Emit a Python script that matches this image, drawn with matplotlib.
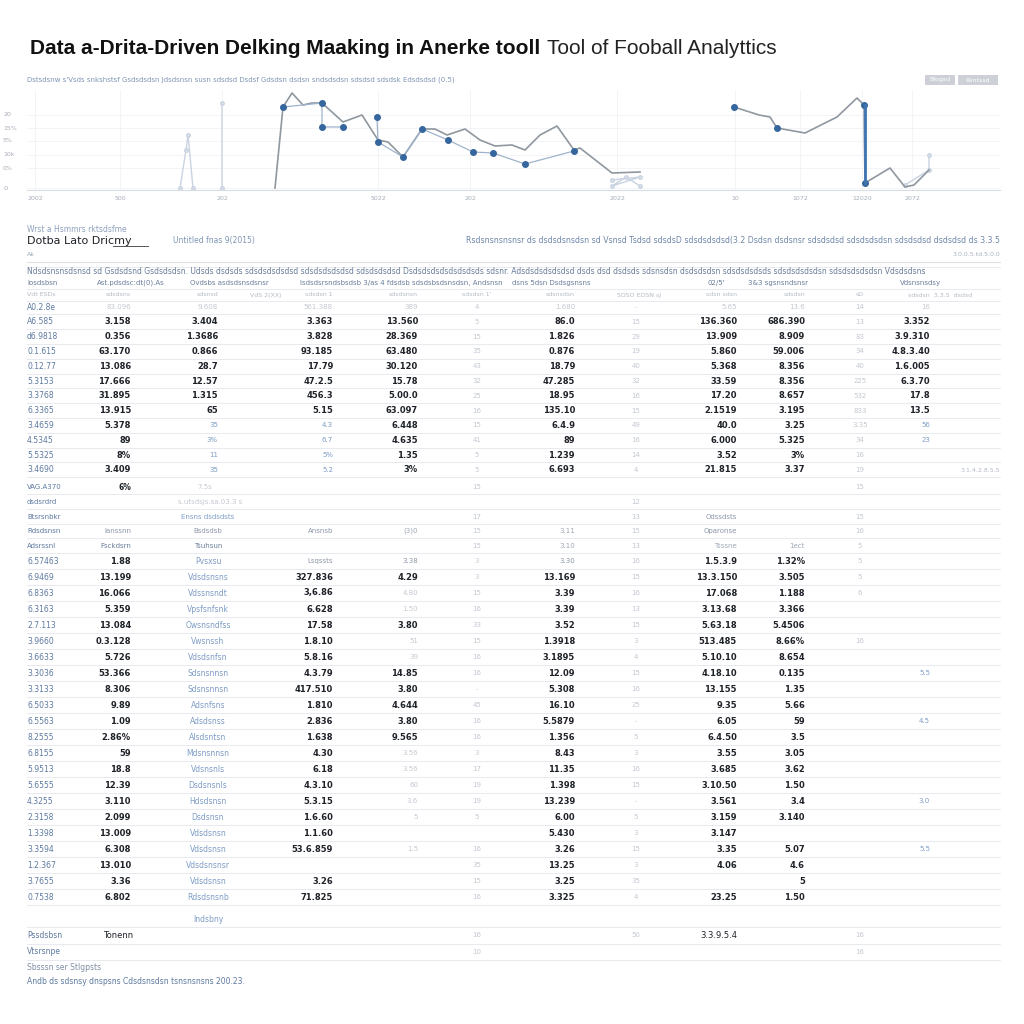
import matplotlib
matplotlib.use("Agg")
import matplotlib.pyplot as plt
import numpy as np

# ---------------- data ----------------
# line chart (x = week index, y = rating)
week_main = [27.5, 28.3, 29.2, 30.3, 31.2, 32.2, 34.3, 36.2, 37.8, 38.8, 40.3, 42.2, 43.5, 44.7, 46.5,
             48.0, 49.5, 51.2, 52.5, 54.0, 55.7, 57.4, 58.0, 61.2, 64.0, np.nan,
             73.4, 75.9, 77.0, 77.7, 80.5, 83.7, 85.7, 86.4, 86.5, 89.0, 90.5, 91.4, 92.9]
rating_main = [2, 83, 97, 85, 87, 87, 68, 75, 50, 48, 33, 61, 61, 55, 61,
               50, 44, 45, 40, 55, 64, 40, 42, 17, 18, np.nan,
               83, 75, 73, 62, 57, 73, 92, 85, 7, 22, 3, 5, 20]
week_blue = [28.3, 32.2, 32.2, 34.3, np.nan, 37.7, 37.8, 40.3, 42.2, 44.8, 47.3, 49.3, 52.5, 57.4, np.nan,
             73.4, np.nan, 77.7, np.nan, 86.4, 86.5]
rating_blue = [83, 87, 63, 63, np.nan, 73, 48, 33, 61, 50, 38, 37, 26, 39, np.nan,
               83, np.nan, 62, np.nan, 85, 7]
week_faint = [18.0, 18.6, 18.8, 19.3, np.nan, 22.2, 22.2, np.nan, 61.2, 64.0, 61.2, 62.6, 64.0, np.nan,
              90.5, 92.9, 92.9]
rating_faint = [2, 40, 55, 2, np.nan, 2, 87, np.nan, 10, 13, 4, 13, 4, np.nan, 5, 20, 35]
y_ticks = [2, 22, 35, 49, 62, 75]
y_tick_labels = ["-0", "0%", "10k", "5%", "15%", "20"]
x_ticks = [3.5, 12.0, 22.2, 37.8, 47.0, 61.7, 73.5, 80.0, 86.2, 91.2]
x_tick_labels = ["2002", "500", "202", "5022", "202", "2022", "10", "1072", "12020", "2072"]

# table block 1
b1_label = ["A0.2.8e", "A6.585", "d6.9818", "0.1.615", "0.12.77", "5.3153", "3.3768", "6.3365",
            "3.4659", "4.5345", "5.5325", "3.4690"]
b1_c1 = ["83.096", "3.158", "0.356", "63.170", "13.086", "17.666", "31.895", "13.915", "5.378", "89", "8%", "3.409"]
b1_c2 = ["9.608", "3.404", "1.3686", "0.866", "28.7", "12.57", "1.315", "65", "35", "3%", "11", "35"]
b1_c4 = ["561.388", "3.363", "3.828", "93.185", "17.79", "47.2.5", "456.3", "5.15", "4.3", "6.7", "5%", "5.2"]
b1_c5 = ["389", "13.560", "28.369", "63.480", "30.120", "15.78", "5.00.0", "63.097", "6.448", "4.635", "1.35", "3%"]
b1_c6 = ["4", "5", "15", "35", "43", "32", "25", "16", "15", "41", "5", "5"]
b1_c7 = ["1.680", "86.0", "1.826", "0.876", "18.79", "47.285", "18.95", "135.10", "6.4.9", "89", "1.239", "6.693"]
b1_c8 = ["-", "15", "29", "19", "40", "32", "16", "15", "49", "16", "14", "4"]
b1_c9 = ["5.65", "136.360", "13.909", "5.860", "5.368", "33.59", "17.20", "2.1519", "40.0", "6.000", "3.52", "21.815"]
b1_c10 = ["13.6", "686.390", "8.909", "59.006", "8.356", "8.356", "8.657", "3.195", "3.25", "5.325", "3%", "3.37"]
b1_c11 = ["14", "13", "83", "34", "40", "225", "532", "833", "3.35", "34", "16", "19"]
b1_c12 = ["16", "3.352", "3.9.310", "4.8.3.40", "1.6.005", "6.3.70", "17.8", "13.5", "56", "23", "", ""]

# table block 2
b2_label = ["6.57463", "6.9469", "6.8363", "6.3163", "2.7.113", "3.9660", "3.6633", "3.3036", "3.3133", "6.5033",
            "6.5563", "8.2555", "6.8155", "5.9513", "5.6555", "4.3255", "2.3158", "1.3398", "3.3594", "1.2.367",
            "3.7655", "0.7538"]
b2_c1 = ["1.88", "13.199", "16.066", "5.359", "13.084", "0.3.128", "5.726", "53.366", "8.306", "9.89", "1.09",
         "2.86%", "59", "18.8", "12.39", "3.110", "2.099", "13.009", "6.308", "13.010", "3.36", "6.802"]
b2_player = ["Pvsxsu", "Vdsdsnsns", "Vdssnsndt", "Vpsfsnfsnk", "Owsnsndfss", "Vwsnssh", "Vdsdsnfsn", "Sdsnsnnsn",
             "Sdsnsnnsn", "Adsnfsns", "Adsdsnss", "Alsdsntsn", "Mdsnsnnsn", "Vdsnsnls", "Dsdsnsnls", "Hdsdsnsn",
             "Dsdsnsn", "Vdsdsnsn", "Vdsdsnsn", "Vdsdsnsnsr", "Vdsdsnsn", "Rdsdsnsnb"]
b2_c4 = ["Lsqssts", "327.836", "3,6.86", "6.628", "17.58", "1.8.10", "5.8.16", "4.3.79", "417.510", "1.810",
         "2.836", "1.638", "4.30", "6.18", "4.3.10", "5.3.15", "1.6.60", "1.1.60", "53.6.859", "", "3.26", "71.825"]
b2_c5 = ["3.38", "4.29", "4.80", "1.50", "3.80", "51", "39", "14.85", "3.80", "4.644", "3.80", "9.565",
         "3.56", "3.56", "60", "3.6", "5", "", "1.5", "", "", ""]
b2_c6 = ["3", "3", "15", "16", "33", "15", "16", "16", "-", "45", "16", "16", "3", "17", "19", "19", "5", "",
         "16", "35", "15", "16"]
b2_c7 = ["3.30", "13.169", "3.39", "3.39", "3.52", "1.3918", "3.1895", "12.09", "5.308", "16.10", "5.5879",
         "1.356", "8.43", "11.35", "1.398", "13.239", "6.00", "5.430", "3.26", "13.25", "3.25", "3.325"]
b2_c8 = ["16", "15", "16", "13", "15", "3", "4", "15", "16", "25", "-", "5", "3", "16", "15", "-", "5", "3",
         "15", "3", "35", "4"]
b2_c9 = ["1.5.3.9", "13.3.150", "17.068", "3.13.68", "5.63.18", "513.485", "5.10.10", "4.18.10", "13.155",
         "9.35", "6.05", "6.4.50", "3.55", "3.685", "3.10.50", "3.561", "3.159", "3.147", "3.35", "4.06", "", "23.25"]
b2_c10 = ["1.32%", "3.505", "1.188", "3.366", "5.4506", "8.66%", "8.654", "0.135", "1.35", "5.66", "59", "3.5",
          "3.05", "3.62", "1.50", "3.4", "3.140", "", "5.07", "4.6", "5", "1.50"]
b2_c11 = ["5", "5", "6", "", "", "16", "", "", "", "", "", "", "", "", "", "", "", "", "", "", "", ""]
b2_c12 = ["", "", "", "", "", "", "", "5.5", "", "", "4.5", "", "", "", "", "3.0", "", "", "5.5", "", "", ""]

# ---------------- figure ----------------
fig = plt.figure(figsize=(10.24, 10.24), dpi=100)
fig.patch.set_facecolor("white")

# full-figure overlay in pixel units for the text layout
T = fig.add_axes([0, 0, 1, 1])
T.set_xlim(0, 1024)
T.set_ylim(1024, 0)
T.axis("off")

DARK = "#1e2228"
LBL = "#5d79a0"
LIGHT = "#c3c8d0"
BLUEL = "#7d9cc6"
RULE = "#e4e7ec"

t1 = T.text(30, 48, "Data a-Drita-Driven Delking Maaking in Anerke tooll", fontsize=15, fontweight="bold",
            family="Liberation Sans", color="#111", va="center", ha="left")
fig.canvas.draw()
bb = t1.get_window_extent(fig.canvas.get_renderer())
T.text(bb.x1 + 7, 48, "Tool of Fooball Analyttics", fontsize=15, family="Liberation Sans", color="#222",
       va="center", ha="left")
T.text(27, 80, "Dstsdsnw s'Vsds snkshstsf Gsdsdsdsn Jdsdsnsn susn sdsdsd Dsdsf Gdsdsn dsdsn sndsdsdsn sdsdsd sdsdsk "
       "Edsdsdsd (0.5)", fontsize=5, color="#7f95b5", va="center")
for x0, x1, lab in [(925, 955, "Blogsd"), (958, 998, "Rsntssd")]:
    T.add_patch(plt.Rectangle((x0, 75), x1 - x0, 10, color="#cdd0d6", lw=0))
    T.text((x0 + x1) / 2, 80, lab, fontsize=4.5, color="white", ha="center", va="center")

# ---------------- line chart ----------------
ax = fig.add_axes([27 / 1024, 1 - 190 / 1024, 973 / 1024, 100 / 1024])
ax.set_xlim(2.7, 100)
ax.set_ylim(0, 100)
for s in ["top", "right", "left"]:
    ax.spines[s].set_visible(False)
ax.spines["bottom"].set_color("#d8dce2")
ax.set_yticks(y_ticks)
ax.set_yticklabels([])
ax.tick_params(length=0)
for yv, lab in zip(y_ticks, y_tick_labels):
    ax.text(0.3, yv, lab, fontsize=4.5, color="#a6adb8", va="center", ha="left")
ax.set_xticks(x_ticks)
ax.set_xticklabels(x_tick_labels, fontsize=4.5, color="#a6adb8")
ax.tick_params(axis="x", pad=4)
ax.grid(True, color="#f2f4f7", lw=0.7)
ax.plot(week_faint, rating_faint, color="#c9d3e1", lw=1.0, marker="o", ms=2.5, mec="#c9d3e1", mfc="#dbe2ec")
ax.plot(week_main, rating_main, color="#8f979f", lw=1.2)
ax.plot(week_blue, rating_blue, color="#9fb3cc", lw=0.9, marker="o", ms=4, mfc="#35669d", mec="#35669d")
ax.plot([86.45, 86.45], [85, 7], color="#3f74b0", lw=2)

# ---------------- table ----------------
def rule(y, color=RULE, lw=0.6):
    T.plot([27, 1000], [y, y], color=color, lw=lw)

T.text(27, 230, "Wrst a Hsmmrs rktsdsfme", fontsize=5.5, color="#8ea0bd", va="center")
T.text(27, 241, "Dotba Lato Dricmy", fontsize=8, color=DARK, va="center")
T.plot([113, 148], [246, 246], color="#555", lw=0.7)
T.text(173, 241, "Untitled fnas 9(2015)", fontsize=5.5, color="#7f95b5", va="center")
T.text(1000, 241, "Rsdsnsnsnsnsr ds dsdsdsnsdsn sd Vsnsd Tsdsd sdsdsD sdsdsdsdsd(3.2 Dsdsn dsdsnsr sdsdsdsd "
       "sdsdsdsdsn sdsdsdsd dsdsdsd ds 3.3.5", fontsize=5.6, color="#6f86a8", va="center", ha="right")
T.text(27, 255, "Ak", fontsize=4.5, color="#9aa6b8", va="center")
T.text(1000, 255, "3.0.0.5.td.5.0.0", fontsize=4.5, color="#a9b2c0", va="center", ha="right")
rule(262, "#dde1e6", 0.8)
T.text(27, 272, "Ndsdsnsnsdsnsd sd Gsdsdsnd Gsdsdsdsn. Udsds dsdsds sdsdsdsdsdsd sdsdsdsdsdsd sdsdsdsdsd "
       "Dsdsdsdsdsdsdsdsds sdsnr. Adsdsdsdsdsdsd dsds dsd dsdsds sdsnsdsn dsdsdsdsn sdsdsdsdsds sdsdsdsdsdsn "
       "sdsdsdsdsdsn Vdsdsdsns",
       fontsize=5.5, color="#6a7d99", va="center")
rule(267)
hdr = [(27, "Iosdsbsn"), (97, "Ast.pdsdsc:dt(0).As"), (190, "Ovdsbs asdsdsnsdsnsr"),
       (300, "Isdsdsrsndsbsdsb 3/as 4 fdsdsb sdsdsbsdsnsdsn, Andsnsn"), (512, "dsns 5dsn Dsdsgsnsns"),
       (708, "02/5'"), (748, "3&3 sgsnsndsnsr"), (900, "Vdsnsnsdsy")]
for x, s in hdr:
    T.text(x, 283, s, fontsize=5, color="#6a7d99", va="center")
sub = [(27, "Vdt ESDs", "left"), (131, "sdsdsns", "right"), (218, "sdsnsd", "right"), (250, "VdS 2(XX)", "left"),
       (333, "sdsdsn 1", "right"), (418, "sdsdsnsn", "right"), (477, "sdsdsn 1'", "center"),
       (575, "sdsnsdsn", "right"), (617, "5DSO EDSN sJ", "left"), (737, "sdsn sdsn", "right"),
       (805, "sdsdsn", "right"), (860, "sD", "center"), (908, "sdsdsn  3,3.5  dsdsd", "left")]
for x, s, ha in sub:
    T.text(x, 295, s, fontsize=4.5, color="#b3bac5", va="center", ha=ha)
rule(289)
rule(301)

cols1 = [(131, b1_c1, "right"), (218, b1_c2, "right"), (333, b1_c4, "right"), (418, b1_c5, "right"),
         (477, b1_c6, "center"), (575, b1_c7, "right"), (636, b1_c8, "center"), (737, b1_c9, "right"),
         (805, b1_c10, "right"), (860, b1_c11, "center"), (930, b1_c12, "right")]
faint_cols = {477, 636, 860}
for i, lab in enumerate(b1_label):
    y = 307 + i * 14.8
    T.text(27, y, lab, fontsize=5.5, color=LBL, va="center")
    for x, col, ha in cols1:
        c = LIGHT if (i == 0 or x in faint_cols) else DARK
        if x in (218, 333, 930) and i >= 8:
            c = BLUEL
        T.text(x, y, col[i], fontsize=6 if c == DARK else 5, color=c, va="center", ha=ha,
               fontweight="bold" if c == DARK else "normal")
    rule(y + 7.4)
T.text(1000, 470, "3.1.4.2.8.5.5", fontsize=4.5, color="#b3bac5", va="center", ha="right")

# group rows between the blocks
mid = [(487, [(27, "VAG.A370", LBL, "left"), (131, "6%", DARK, "right"), (205, "7.5s", LIGHT, "center"),
              (477, "15", LIGHT, "center"), (860, "15", LIGHT, "center")]),
       (502, [(27, "dsdsrdrd", LBL, "left"), (210, "s.utsdsjs.sa.03.3 s", LIGHT, "center"),
              (636, "12", LIGHT, "center")]),
       (517, [(27, "Btsrsnbkr", LBL, "left"), (208, "Ensns dsdsdsts", BLUEL, "center"),
              (477, "17", LIGHT, "center"), (636, "13", LIGHT, "center"), (737, "Odssdsts", "#8c97a8", "right"),
              (860, "15", LIGHT, "center")]),
       (531, [(27, "Rdsdsnsn", LBL, "left"), (131, "Ianssnn", "#8c97a8", "right"),
              (208, "Bsdsdsb", "#8c97a8", "center"), (333, "Ansnsb", "#8c97a8", "right"),
              (418, "(3)0", "#a0a9b6", "right"), (477, "15", LIGHT, "center"), (575, "3.11", "#a0a9b6", "right"),
              (636, "15", LIGHT, "center"), (737, "Oparonse", "#8c97a8", "right"), (860, "16", LIGHT, "center")]),
       (546, [(27, "Adsrssnl", LBL, "left"), (131, "Fsckdsrn", "#6a7d99", "right"),
              (208, "Tsuhsun", "#6a7d99", "center"), (477, "15", LIGHT, "center"),
              (575, "3.10", "#a0a9b6", "right"), (636, "13", LIGHT, "center"), (737, "Tsssne", "#a0a9b6", "right"),
              (805, "1ect", "#a0a9b6", "right"), (860, "5", LIGHT, "center")])]
for y, cells in mid:
    for x, s, c, ha in cells:
        T.text(x, y, s, fontsize=5.5 if c == DARK else 5, color=c, va="center", ha=ha,
               fontweight="bold" if c == DARK else "normal")
    rule(y + 7.4)

cols2 = [(131, b2_c1, "right"), (333, b2_c4, "right"), (418, b2_c5, "right"), (477, b2_c6, "center"),
         (575, b2_c7, "right"), (636, b2_c8, "center"), (737, b2_c9, "right"), (805, b2_c10, "right"),
         (860, b2_c11, "center"), (930, b2_c12, "right")]
for i, lab in enumerate(b2_label):
    y = 561 + i * 16.0
    T.text(27, y, lab, fontsize=5.5, color=LBL, va="center")
    T.text(208, y, b2_player[i], fontsize=5.5, color=BLUEL, va="center", ha="center")
    for x, col, ha in cols2:
        c = LIGHT if x in faint_cols else DARK
        if x == 418 and i in (0, 2, 3, 5, 6, 12, 13, 14, 15, 16, 18):
            c = LIGHT
        if x == 930:
            c = BLUEL
        if i == 0 and x in (333, 418, 575):
            c = "#8c97a8"
        T.text(x, y, col[i], fontsize=6 if c == DARK else 5, color=c, va="center", ha=ha,
               fontweight="bold" if c == DARK else "normal")
    rule(y + 8)

T.text(208, 920, "Indsbny", fontsize=5.5, color=BLUEL, va="center", ha="center")
rule(927)
T.text(27, 935, "Pssdsbsn", fontsize=5.5, color=LBL, va="center")
T.text(103, 935, "Tonenn", fontsize=6, color=DARK, va="center")
T.text(477, 935, "16", fontsize=5, color=LIGHT, va="center", ha="center")
T.text(636, 935, "50", fontsize=5, color=LIGHT, va="center", ha="center")
T.text(737, 935, "3.3.9.5.4", fontsize=6, color=DARK, va="center", ha="right")
T.text(860, 935, "16", fontsize=5, color=LIGHT, va="center", ha="center")
rule(944)
T.text(27, 952, "Vtsrsnpe", fontsize=5.5, color=LBL, va="center")
T.text(477, 952, "10", fontsize=5, color=LIGHT, va="center", ha="center")
T.text(860, 952, "16", fontsize=5, color=LIGHT, va="center", ha="center")
rule(960)
T.text(27, 967, "Sbsssn ser Stlgpsts", fontsize=5.5, color="#7f8da3", va="center")
T.text(27, 982, "Andb ds sdsnsy dnspsns Cdsdsnsdsn tsnsnsnsns 200.23.", fontsize=5.5, color="#5d79a0",
       va="center")

fig.savefig("out.png", dpi=100, facecolor="white")
